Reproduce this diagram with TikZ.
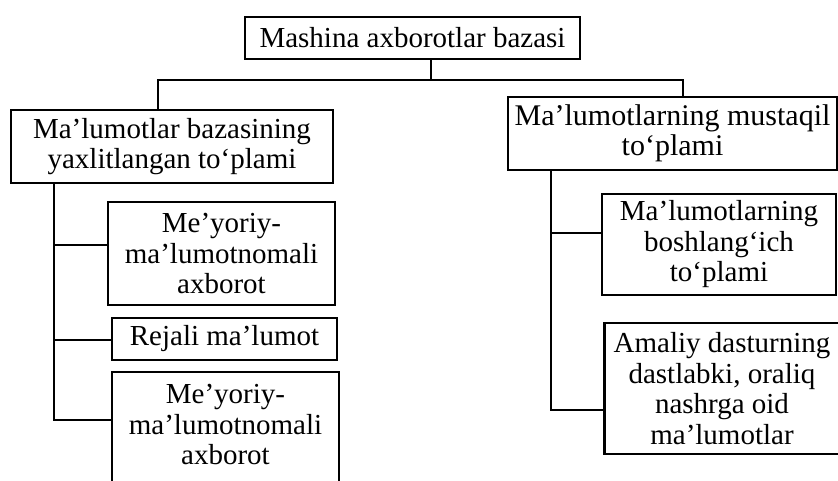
\documentclass[tikz,border=0pt]{standalone}
\usepackage{fontspec}
\setmainfont{Liberation Serif}
\begin{document}
\begin{tikzpicture}[x=1pt,y=-1pt,
  box/.style={draw, line width=2.2pt, inner sep=0pt, align=center,
    font=\fontsize{29}{30.5}\selectfont},
  bigbox/.style={box, font=\fontsize{30}{29.5}\selectfont},
  conn/.style={line width=2.2pt, line cap=rect}]
\useasboundingbox (0,0) rectangle (838,481);
\clip (0,0) rectangle (838,481);
\node[box, minimum width=335pt, minimum height=42pt] (top) at (412.5,38) {Mashina axborotlar bazasi};
\node[box, minimum width=322pt, minimum height=73pt] (L) at (172,146.5) {Ma’lumotlar bazasining\\yaxlitlangan to‘plami};
\node[bigbox, minimum width=329pt, minimum height=73pt] (R) at (672.5,133.5) {Ma’lumotlarning mustaqil\\to‘plami};
\node[box, minimum width=227pt, minimum height=103pt] (A) at (221.5,253.5) {Me’yoriy-\\ma’lumotnomali\\axborot};
\node[box, minimum width=225pt, minimum height=42pt] (B) at (224.5,339) {Rejali ma’lumot};
\node[box, draw=none, minimum width=225pt, minimum height=103pt] (C) at (225.5,424.5) {Me’yoriy-\\ma’lumotnomali\\axborot};
\draw[line width=2.2pt] (C.north west) rectangle ([yshift=-25pt]C.south east);
\node[box, minimum width=234pt, minimum height=101pt] (D) at (719,244.5) {Ma’lumotlarning\\boshlang‘ich\\to‘plami};
\node[box, minimum width=235pt, minimum height=131pt] (E) at (722,388.5) {Amaliy dasturning\\dastlabki, oraliq\\nashrga oid\\ma’lumotlar};
% junction coordinates
\coordinate (j) at (431,80);
\coordinate (jl) at (158,80);
\coordinate (jr) at (683,80);
\coordinate (tl) at (54,0);
\coordinate (tr) at (551,0);
\coordinate (yA) at (0,245);
\coordinate (yB) at (0,340);
\coordinate (yC) at (0,420);
\coordinate (yD) at (0,233);
\coordinate (yE) at (0,410);
% connectors
\draw[conn] (top.south -| j) -- (j);
\draw[conn] (L.north -| jl) -- (jl) -- (jr) -- (R.north -| jr);
\draw[conn] (L.south -| tl) |- (C.west |- yC);
\draw[conn] (tl |- yA) -- (A.west |- yA);
\draw[conn] (tl |- yB) -- (B.west |- yB);
\draw[conn] (R.south -| tr) |- (E.west |- yE);
\draw[conn] (tr |- yD) -- (D.west |- yD);
\end{tikzpicture}
\end{document}
